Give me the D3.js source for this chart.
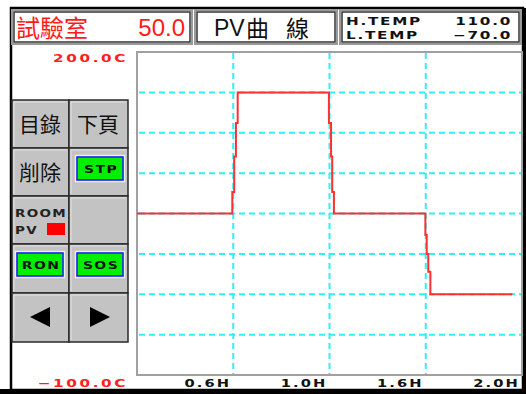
<!DOCTYPE html>
<html><head><meta charset="utf-8">
<script src="https://cdn.jsdelivr.net/npm/d3@7"></script>
<style>
html,body{margin:0;padding:0;background:#fff;}
svg{display:block;}
</style></head>
<body>
<svg id="c" width="526" height="394"></svg>
<script>
// ---- data ----
const timeH = [0, 0.495, 0.505, 0.514, 0.523, 0.997, 1.008, 1.014, 1.023, 1.498, 1.505, 1.513, 1.524, 1.95];
const pvValues = [50, 70, 103, 134, 162.5, 134, 103, 70, 50, 30, 12.5, -4, -25, -25];
const xTickValues = [0.5, 1.0, 1.5, 2.0];
const xTickLabels = ["0.6H", "1.0H", "1.6H", "2.0H"];
const yGridValues = [162.5, 125, 87.5, 50, 12.5, -25, -62.5];
const yMaxLabel = "200.0C";
const yMinLabel = "\u2212100.0C";
const headerRoom = "試驗室";
const headerRoomValue = "50.0";
const headerTitle = ["PV", "曲", "線"];
const hTempLabel = "H.TEMP", hTempValue = "110.0";
const lTempLabel = "L.TEMP", lTempValue = "\u221270.0";

(function(){
const svg = d3.select("#c");
const mono = "'DejaVu Sans', sans-serif";
const cjkF = "'Noto Sans CJK TC'";

// wide pixel-style text helper
function wide(parent, x, y, t, opts={}){
  const sx = opts.sx || 1.4;
  const g = parent.append("g").attr("transform",`translate(${x},${y}) scale(${sx},1)`);
  return g.append("text").attr("x",0).attr("y",0)
    .attr("text-anchor",opts.anchor||"start")
    .attr("font-family",mono).attr("font-size",opts.fs||10.5).attr("font-weight","bold")
    .attr("letter-spacing",opts.ls!=null?opts.ls:1.5).attr("fill",opts.fill||"#111").text(t);
}

// outer frame
svg.append("rect").attr("x",11).attr("y",8).attr("width",512).attr("height",382)
  .attr("fill","#fff").attr("stroke","#000").attr("stroke-width",2.5);
svg.append("rect").attr("x",0).attr("y",389).attr("width",526).attr("height",5).attr("fill","#000");
svg.append("rect").attr("x",522).attr("y",8).attr("width",4).attr("height",386).attr("fill","#000");

// header boxes
function box(x,y,w,h){
  svg.append("rect").attr("x",x).attr("y",y).attr("width",w).attr("height",h)
    .attr("fill","#fff").attr("stroke","#9a9a9a").attr("stroke-width",2);
  svg.append("rect").attr("x",x+2).attr("y",y+2).attr("width",w-4).attr("height",h-4)
    .attr("fill","none").attr("stroke","#333").attr("stroke-width",1.5);
}
box(12,10,180,34);
box(195,10,142,34);
box(340,10,181,34);

svg.append("text").attr("x",16).attr("y",37).attr("fill","#ff1a1a")
  .attr("font-family",cjkF).attr("font-size",24).text(headerRoom);
svg.append("text").attr("x",185).attr("y",36).attr("fill","#ff1a1a").attr("text-anchor","end")
  .attr("font-family","'Liberation Sans', sans-serif").attr("font-size",24).text(headerRoomValue);
svg.append("text").attr("x",214).attr("y",36).attr("fill","#111")
  .attr("font-family","'Liberation Sans', sans-serif").attr("font-size",23).text(headerTitle[0]);
svg.append("text").attr("x",246).attr("y",37).attr("fill","#111")
  .attr("font-family",cjkF).attr("font-size",23).text(headerTitle[1]);
svg.append("text").attr("x",286).attr("y",37).attr("fill","#111")
  .attr("font-family",cjkF).attr("font-size",23).text(headerTitle[2]);

[[hTempLabel,hTempValue,25],[lTempLabel,lTempValue,39]].forEach(([a,b,yy])=>{
  wide(svg,346,yy,a,{fs:10.5,sx:1.45,ls:1.2});
  wide(svg,512,yy,b,{fs:10.5,sx:1.45,ls:1.2,anchor:"end"});
});

// plot
const pL=137, pR=522, pT=52, pB=375;
const x = d3.scaleLinear().domain([0,2]).range([pL,pR]);
const y = d3.scaleLinear().domain([-100,200]).range([pB,pT]);

svg.append("rect").attr("x",pL).attr("y",pT).attr("width",pR-pL).attr("height",pB-pT)
  .attr("fill","#fff").attr("stroke","#a0a0a0").attr("stroke-width",2);

const grid = svg.append("g").attr("stroke","#2ef0f8").attr("stroke-width",2).attr("stroke-dasharray","6,4");
grid.selectAll("line.v").data(xTickValues.slice(0,3)).join("line").attr("class","v")
  .attr("x1",d=>x(d)).attr("x2",d=>x(d)).attr("y1",pT+1).attr("y2",pB-1);
grid.selectAll("line.h").data(yGridValues).join("line").attr("class","h")
  .attr("x1",pL+2).attr("x2",pR-1).attr("y1",d=>y(d)).attr("y2",d=>y(d));

const pts = timeH.map((t,i)=>[t,pvValues[i]]);
svg.append("path").datum(pts)
  .attr("d", d3.line().x(d=>x(d[0])).y(d=>y(d[1])).curve(d3.curveStepAfter))
  .attr("fill","none").attr("stroke","#ff3030").attr("stroke-width",2);

// x axis labels (positions from the scale)
const gx = svg.append("g");
xTickValues.forEach((v,i)=>{
  wide(gx, x(v)-2, pB+12, xTickLabels[i], {fs:10.5, sx:1.4, ls:1.5, anchor:"end"});
});

// y labels
wide(svg,128,62,yMaxLabel,{fs:10.5,sx:1.45,ls:1.8,anchor:"end",fill:"#ff2020"});
wide(svg,128,387,yMinLabel,{fs:10.5,sx:1.45,ls:1.8,anchor:"end",fill:"#ff2020"});

// buttons panel
const rows=[100,148,196,244,293,342], cols=[12,69,128];
const bp = svg.append("g");
for(let r=0;r<5;r++) for(let c=0;c<2;c++){
  const bx=cols[c], by=rows[r], bw=cols[c+1]-cols[c], bh=rows[r+1]-rows[r];
  bp.append("rect").attr("x",bx).attr("y",by).attr("width",bw).attr("height",bh)
    .attr("fill","#c3c3c3").attr("stroke","#2a2a2a").attr("stroke-width",1.5);
  bp.append("path").attr("d",`M${bx+2},${by+bh-2}V${by+2}H${bx+bw-2}`)
    .attr("fill","none").attr("stroke","#e4e4e4").attr("stroke-width",1);
}
function cjk(t,cx,cy){
  bp.append("text").attr("x",cx).attr("y",cy).attr("text-anchor","middle").attr("fill","#111")
    .attr("font-family",cjkF).attr("font-size",21).text(t);
}
cjk("目錄",40,132); cjk("下頁",98,132); cjk("削除",40,180);
function green(t,x0,y0){
  bp.append("rect").attr("x",x0-1.5).attr("y",y0-1.5).attr("width",49).attr("height",26)
    .attr("fill","none").attr("stroke","#eeeeee").attr("stroke-width",1.5);
  bp.append("rect").attr("x",x0).attr("y",y0).attr("width",46).attr("height",23)
    .attr("fill","#00f000").attr("stroke","#1a1aff").attr("stroke-width",1.5);
  wide(bp, x0+24, y0+16, t, {fs:10, sx:1.4, ls:1, anchor:"middle"});
}
green("STP",77,157); green("RON",17,253); green("SOS",77,253);
wide(bp,15,217,"ROOM",{fs:10,sx:1.35,ls:1,fill:"#222"});
wide(bp,15,234,"PV",{fs:10,sx:1.35,ls:1,fill:"#222"});
bp.append("rect").attr("x",47).attr("y",223).attr("width",18).attr("height",12).attr("fill","#ff0000");
bp.append("path").attr("d","M30,317L50,307V327Z").attr("fill","#000");
bp.append("path").attr("d","M110,317L90,307V327Z").attr("fill","#000");
})();
</script>
</body></html>
